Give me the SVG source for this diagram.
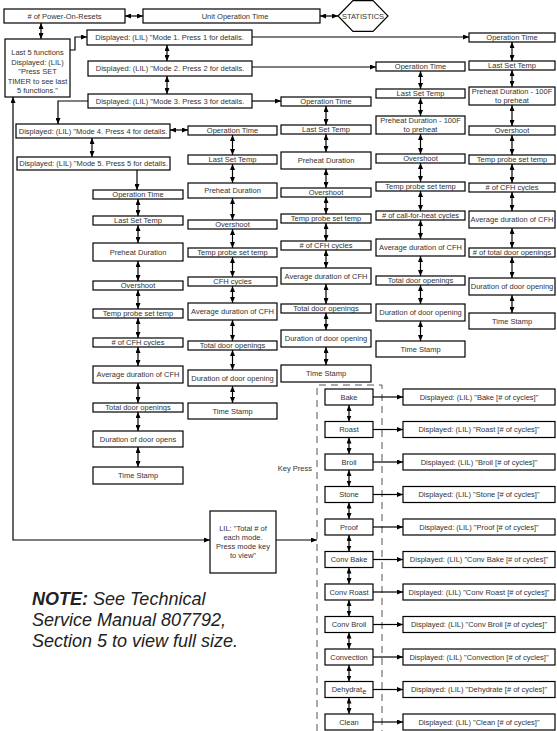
<svg xmlns="http://www.w3.org/2000/svg" width="557" height="731" viewBox="0 0 557 731">
<style>
rect{fill:#fff;stroke:#000;stroke-width:1.2}
polygon{fill:#fff;stroke:#000;stroke-width:1.2}
text{font-family:"Liberation Sans",Arial,sans-serif;font-size:7.5px;fill:#333;text-anchor:middle}
.c line,.c polyline{stroke:#000;stroke-width:1.2;fill:none}
.d{marker-start:url(#ah);marker-end:url(#ah)}
.e{marker-end:url(#ah)}
.dash{stroke:#555;stroke-width:1;stroke-dasharray:7 5;fill:none}
.note{font-size:18px;font-style:italic;text-anchor:start;fill:#222}
</style>
<defs>
<marker id="ah" viewBox="0 0 6 5" refX="6" refY="2.5" markerWidth="6" markerHeight="5" markerUnits="userSpaceOnUse" orient="auto-start-reverse"><path d="M0,0 L6,2.5 L0,5 z" fill="#000"/></marker>
</defs>
<rect x="0" y="0" width="557" height="731" style="fill:#fff;stroke:none"/>

<g id="top">
<g id="power"><rect x="4" y="9" width="121" height="14"/><text x="64.5" y="18.7"># of Power-On-Resets</text></g>
<g id="unitop"><rect x="143" y="9" width="177" height="14"/><text x="235" y="18.7">Unit Operation Time</text></g>
<g id="stats"><polygon points="338,16 353,0.6 373,0.6 388,16 373,31.4 353,31.4"/><text x="363" y="18.7">STATISTICS</text></g>
<g id="last5"><rect x="5" y="39" width="65" height="58"/>
<text x="37.5" y="55">Last 5 functions</text><text x="37.5" y="64.5">Displayed: (LIL)</text><text x="37.5" y="74">"Press SET</text><text x="37.5" y="83.5">TIMER to see last</text><text x="37.5" y="93">5 functions."</text></g>
<g id="mode1"><rect x="87" y="30" width="165" height="15"/><text x="169.5" y="40.2">Displayed: (LIL) "Mode 1. Press 1 for details.</text></g>
<g id="mode2"><rect x="88" y="61" width="164" height="15"/><text x="170" y="71.2">Displayed: (LIL) "Mode 2. Press 2 for details.</text></g>
<g id="mode3"><rect x="88" y="94" width="164" height="14"/><text x="170" y="103.7">Displayed: (LIL) "Mode 3. Press 3 for details.</text></g>
<g id="mode4"><rect x="16" y="124" width="154" height="14"/><text x="93" y="133.7">Displayed: (LIL) "Mode 4. Press 4 for details.</text></g>
<g id="mode5"><rect x="17" y="157" width="153" height="13"/><text x="93.5" y="166.2">Displayed: (LIL) "Mode 5. Press 5 for details.</text></g>
</g>

<g id="colA">
<g id="a1"><rect x="93" y="190" width="90" height="9"/><text x="138" y="196.8">Operation Time</text></g>
<g id="a2"><rect x="93" y="216" width="90" height="9"/><text x="138" y="222.8">Last Set Temp</text></g>
<g id="a3"><rect x="93" y="243" width="90" height="18"/><text x="138" y="254.7">Preheat Duration</text></g>
<g id="a4"><rect x="93" y="281" width="90" height="9"/><text x="138" y="287.8">Overshoot</text></g>
<g id="a5"><rect x="93" y="309" width="90" height="9"/><text x="138" y="315.8">Temp probe set temp</text></g>
<g id="a6"><rect x="93" y="338" width="90" height="9"/><text x="138" y="344.8"># of CFH cycles</text></g>
<g id="a7"><rect x="93" y="366" width="90" height="17"/><text x="138" y="377.2">Average duration of CFH</text></g>
<g id="a8"><rect x="93" y="403" width="90" height="9"/><text x="138" y="409.8">Total door openings</text></g>
<g id="a9"><rect x="93" y="431" width="90" height="16"/><text x="138" y="441.7">Duration of door opens</text></g>
<g id="a10"><rect x="93" y="467" width="90" height="17"/><text x="138" y="478.2">Time Stamp</text></g>
</g>

<g id="colB">
<g id="b1"><rect x="188" y="126" width="89" height="9"/><text x="232.5" y="132.8">Operation Time</text></g>
<g id="b2"><rect x="188" y="155" width="89" height="9"/><text x="232.5" y="161.8">Last Set Temp</text></g>
<g id="b3"><rect x="188" y="183" width="89" height="15"/><text x="232.5" y="193.2">Preheat Duration</text></g>
<g id="b4"><rect x="188" y="220" width="89" height="9"/><text x="232.5" y="226.8">Overshoot</text></g>
<g id="b5"><rect x="188" y="248" width="89" height="9"/><text x="232.5" y="254.8">Temp probe set temp</text></g>
<g id="b6"><rect x="188" y="277" width="89" height="9"/><text x="232.5" y="283.8">CFH cycles</text></g>
<g id="b7"><rect x="188" y="303" width="89" height="17"/><text x="232.5" y="314.2">Average duration of CFH</text></g>
<g id="b8"><rect x="188" y="341" width="89" height="9"/><text x="232.5" y="347.8">Total door openings</text></g>
<g id="b9"><rect x="188" y="370" width="89" height="16"/><text x="232.5" y="380.7">Duration of door opening</text></g>
<g id="b10"><rect x="188" y="403" width="89" height="16"/><text x="232.5" y="413.7">Time Stamp</text></g>
</g>

<g id="colC">
<g id="c1"><rect x="281" y="97" width="90" height="9"/><text x="326" y="103.8">Operation Time</text></g>
<g id="c2"><rect x="281" y="125" width="90" height="9"/><text x="326" y="131.8">Last Set Temp</text></g>
<g id="c3"><rect x="281" y="152" width="90" height="17"/><text x="326" y="163.2">Preheat Duration</text></g>
<g id="c4"><rect x="281" y="188" width="90" height="9"/><text x="326" y="194.8">Overshoot</text></g>
<g id="c5"><rect x="281" y="214" width="90" height="9"/><text x="326" y="220.8">Temp probe set temp</text></g>
<g id="c6"><rect x="281" y="241" width="90" height="9"/><text x="326" y="247.8"># of CFH cycles</text></g>
<g id="c7"><rect x="281" y="268" width="90" height="16"/><text x="326" y="278.7">Average duration of CFH</text></g>
<g id="c8"><rect x="281" y="304" width="90" height="9"/><text x="326" y="310.8">Total door openings</text></g>
<g id="c9"><rect x="281" y="330" width="90" height="17"/><text x="326" y="341.2">Duration of door opening</text></g>
<g id="c10"><rect x="281" y="365" width="90" height="17"/><text x="326" y="376.2">Time Stamp</text></g>
</g>

<g id="colD">
<g id="d1"><rect x="376" y="62" width="89" height="9"/><text x="420.5" y="68.8">Operation Time</text></g>
<g id="d2"><rect x="376" y="89" width="89" height="9"/><text x="420.5" y="95.8">Last Set Temp</text></g>
<g id="d3"><rect x="376" y="116" width="89" height="18"/><text x="420.5" y="123.3">Preheat Duration - 100F</text><text x="420.5" y="131.5">to preheat</text></g>
<g id="d4"><rect x="376" y="154" width="89" height="9"/><text x="420.5" y="160.8">Overshoot</text></g>
<g id="d5"><rect x="376" y="182" width="89" height="9"/><text x="420.5" y="188.8">Temp probe set temp</text></g>
<g id="d6"><rect x="376" y="211" width="89" height="9"/><text x="420.5" y="217.8"># of call-for-heat cycles</text></g>
<g id="d7"><rect x="376" y="239" width="89" height="17"/><text x="420.5" y="250.2">Average duration of CFH</text></g>
<g id="d8"><rect x="376" y="276" width="89" height="9"/><text x="420.5" y="282.8">Total door openings</text></g>
<g id="d9"><rect x="376" y="304" width="89" height="17"/><text x="420.5" y="315.2">Duration of door opening</text></g>
<g id="d10"><rect x="376" y="341" width="89" height="16"/><text x="420.5" y="351.7">Time Stamp</text></g>
</g>

<g id="colE">
<g id="e1"><rect x="469" y="33" width="86" height="9"/><text x="512" y="39.8">Operation Time</text></g>
<g id="e2"><rect x="469" y="61" width="86" height="9"/><text x="512" y="67.8">Last Set Temp</text></g>
<g id="e3"><rect x="469" y="87" width="86" height="18"/><text x="512" y="94.3">Preheat Duration - 100F</text><text x="512" y="102.5">to preheat</text></g>
<g id="e4"><rect x="469" y="126" width="86" height="9"/><text x="512" y="132.8">Overshoot</text></g>
<g id="e5"><rect x="469" y="155" width="86" height="9"/><text x="512" y="161.8">Temp probe set temp</text></g>
<g id="e6"><rect x="469" y="183" width="86" height="9"/><text x="512" y="189.8"># of CFH cycles</text></g>
<g id="e7"><rect x="469" y="211" width="86" height="17"/><text x="512" y="222.2">Average duration of CFH</text></g>
<g id="e8"><rect x="469" y="248" width="86" height="9"/><text x="512" y="254.8"># of total door openings</text></g>
<g id="e9"><rect x="469" y="278" width="86" height="17"/><text x="512" y="289.2">Duration of door opening</text></g>
<g id="e10"><rect x="469" y="313" width="86" height="16"/><text x="512" y="323.7">Time Stamp</text></g>
</g>

<g id="modes">
<g id="m-bake"><rect x="325" y="389" width="48" height="16"/><text x="349" y="399.7">Bake</text></g>
<g id="m-roast"><rect x="325" y="421.5" width="48" height="16"/><text x="349" y="432.2">Roast</text></g>
<g id="m-broil"><rect x="325" y="454" width="48" height="16"/><text x="349" y="464.7">Broil</text></g>
<g id="m-stone"><rect x="325" y="486.5" width="48" height="16"/><text x="349" y="497.2">Stone</text></g>
<g id="m-proof"><rect x="325" y="519" width="48" height="16"/><text x="349" y="529.7">Proof</text></g>
<g id="m-convbake"><rect x="325" y="551.5" width="48" height="16"/><text x="349" y="562.2">Conv Bake</text></g>
<g id="m-convroast"><rect x="325" y="584" width="48" height="16"/><text x="349" y="594.7">Conv Roast</text></g>
<g id="m-convbroil"><rect x="325" y="616.5" width="48" height="16"/><text x="349" y="627.2">Conv Broil</text></g>
<g id="m-convection"><rect x="325" y="649" width="48" height="16"/><text x="349" y="659.7">Convection</text></g>
<g id="m-dehydrate"><rect x="325" y="681.5" width="48" height="16"/><text x="349" y="692.2">Dehydrat<tspan dy="1.5">e</tspan></text></g>
<g id="m-clean"><rect x="325" y="714" width="48" height="16"/><text x="349" y="724.7">Clean</text></g>
</g>

<g id="displays">
<g id="v-bake"><rect x="403" y="389" width="152" height="16"/><text x="479" y="399.7">Displayed: (LIL) "Bake [# of cycles]"</text></g>
<g id="v-roast"><rect x="403" y="421.5" width="152" height="16"/><text x="479" y="432.2">Displayed: (LIL) "Roast [# of cycles]"</text></g>
<g id="v-broil"><rect x="403" y="454" width="152" height="16"/><text x="479" y="464.7">Displayed: (LIL) "Broil [# of cycles]"</text></g>
<g id="v-stone"><rect x="403" y="486.5" width="152" height="16"/><text x="479" y="497.2">Displayed: (LIL) "Stone [# of cycles]"</text></g>
<g id="v-proof"><rect x="403" y="519" width="152" height="16"/><text x="479" y="529.7">Displayed: (LIL) "Proof [# of cycles]"</text></g>
<g id="v-convbake"><rect x="403" y="551.5" width="152" height="16"/><text x="479" y="562.2">Displayed: (LIL) "Conv Bake [# of cycles]"</text></g>
<g id="v-convroast"><rect x="403" y="584" width="152" height="16"/><text x="479" y="594.7">Displayed: (LIL) "Conv Roast [# of cycles]"</text></g>
<g id="v-convbroil"><rect x="403" y="616.5" width="152" height="16"/><text x="479" y="627.2">Displayed: (LIL) "Conv Broil [# of cycles]"</text></g>
<g id="v-convection"><rect x="403" y="649" width="152" height="16"/><text x="479" y="659.7">Displayed: (LIL) "Convection [# of cycles]"</text></g>
<g id="v-dehydrate"><rect x="403" y="681.5" width="152" height="16"/><text x="479" y="692.2">Displayed: (LIL) "Dehydrate [# of cycles]"</text></g>
<g id="v-clean"><rect x="403" y="714" width="152" height="16"/><text x="479" y="724.7">Displayed: (LIL) "Clean [# of cycles]"</text></g>
</g>

<g id="lil"><rect x="210" y="511" width="66" height="62"/>
<text x="243" y="530.5">LIL: "Total # of</text><text x="243" y="539.5">each mode.</text><text x="243" y="548.5">Press mode key</text><text x="243" y="557.5">to view"</text></g>

<g id="keypress"><text x="312" y="471" style="text-anchor:end">Key Press</text>
<path class="dash" d="M317,731 V385 H382 V731"/></g>

<g id="note"><text class="note" x="32" y="605"><tspan font-weight="bold">NOTE:</tspan> See Technical</text>
<text class="note" x="32" y="626">Service Manual 807792,</text>
<text class="note" x="32" y="647">Section 5 to view full size.</text></g>

<g id="connectors" class="c">
<line class="d" x1="125" y1="16" x2="143" y2="16"/>
<line class="d" x1="320" y1="16" x2="338" y2="16"/>
<line class="d" x1="41" y1="23" x2="41" y2="39"/>
<polyline class="e" points="70,50 75,50 75,37 87,37"/>
<line class="e" x1="252" y1="37" x2="469" y2="37"/>
<line class="d" x1="167" y1="45" x2="167" y2="61"/>
<line class="e" x1="252" y1="67" x2="376" y2="67"/>
<line class="d" x1="167" y1="76" x2="167" y2="94"/>
<line class="e" x1="252" y1="101" x2="281" y2="101"/>
<polyline class="e" points="88,101 58,101 58,124"/>
<line class="d" x1="170" y1="130" x2="188" y2="130"/>
<line class="d" x1="92" y1="138" x2="92" y2="157"/>
<line class="e" x1="137" y1="170" x2="137" y2="190"/>
<polyline class="d" points="13,97 13,540 210,540"/>
<line class="e" x1="276" y1="540" x2="317" y2="540"/>
<!-- column A -->
<line class="d" x1="138" y1="199" x2="138" y2="216"/>
<line class="d" x1="138" y1="225" x2="138" y2="243"/>
<line class="d" x1="138" y1="261" x2="138" y2="281"/>
<line class="d" x1="138" y1="290" x2="138" y2="309"/>
<line class="d" x1="138" y1="318" x2="138" y2="338"/>
<line class="d" x1="138" y1="347" x2="138" y2="366"/>
<line class="d" x1="138" y1="383" x2="138" y2="403"/>
<line class="d" x1="138" y1="412" x2="138" y2="431"/>
<line class="d" x1="138" y1="447" x2="138" y2="467"/>
<!-- column B -->
<line class="d" x1="232.5" y1="135" x2="232.5" y2="155"/>
<line class="d" x1="232.5" y1="164" x2="232.5" y2="183"/>
<line class="d" x1="232.5" y1="198" x2="232.5" y2="220"/>
<line class="d" x1="232.5" y1="229" x2="232.5" y2="248"/>
<line class="d" x1="232.5" y1="257" x2="232.5" y2="277"/>
<line class="d" x1="232.5" y1="286" x2="232.5" y2="303"/>
<line class="d" x1="232.5" y1="320" x2="232.5" y2="341"/>
<line class="d" x1="232.5" y1="350" x2="232.5" y2="370"/>
<line class="d" x1="232.5" y1="386" x2="232.5" y2="403"/>
<!-- column C -->
<line class="d" x1="326" y1="106" x2="326" y2="125"/>
<line class="d" x1="326" y1="134" x2="326" y2="152"/>
<line class="d" x1="326" y1="169" x2="326" y2="188"/>
<line class="d" x1="326" y1="197" x2="326" y2="214"/>
<line class="d" x1="326" y1="223" x2="326" y2="241"/>
<line class="d" x1="326" y1="250" x2="326" y2="268"/>
<line class="d" x1="326" y1="284" x2="326" y2="304"/>
<line class="d" x1="326" y1="313" x2="326" y2="330"/>
<line class="d" x1="326" y1="347" x2="326" y2="365"/>
<!-- column D -->
<line class="d" x1="420.5" y1="71" x2="420.5" y2="89"/>
<line class="d" x1="420.5" y1="98" x2="420.5" y2="116"/>
<line class="d" x1="420.5" y1="134" x2="420.5" y2="154"/>
<line class="d" x1="420.5" y1="163" x2="420.5" y2="182"/>
<line class="d" x1="420.5" y1="191" x2="420.5" y2="211"/>
<line class="d" x1="420.5" y1="220" x2="420.5" y2="239"/>
<line class="d" x1="420.5" y1="256" x2="420.5" y2="276"/>
<line class="d" x1="420.5" y1="285" x2="420.5" y2="304"/>
<line class="d" x1="420.5" y1="321" x2="420.5" y2="341"/>
<!-- column E -->
<line class="d" x1="512" y1="42" x2="512" y2="61"/>
<line class="d" x1="512" y1="70" x2="512" y2="87"/>
<line class="d" x1="512" y1="105" x2="512" y2="126"/>
<line class="d" x1="512" y1="135" x2="512" y2="155"/>
<line class="d" x1="512" y1="164" x2="512" y2="183"/>
<line class="d" x1="512" y1="192" x2="512" y2="211"/>
<line class="d" x1="512" y1="228" x2="512" y2="248"/>
<line class="d" x1="512" y1="257" x2="512" y2="278"/>
<line class="d" x1="512" y1="295" x2="512" y2="313"/>
<!-- mode column -->
<line class="d" x1="349" y1="405" x2="349" y2="421.5"/>
<line class="d" x1="349" y1="437.5" x2="349" y2="454"/>
<line class="d" x1="349" y1="470" x2="349" y2="486.5"/>
<line class="d" x1="349" y1="502.5" x2="349" y2="519"/>
<line class="d" x1="349" y1="535" x2="349" y2="551.5"/>
<line class="d" x1="349" y1="567.5" x2="349" y2="584"/>
<line class="d" x1="349" y1="600" x2="349" y2="616.5"/>
<line class="d" x1="349" y1="632.5" x2="349" y2="649"/>
<line class="d" x1="349" y1="665" x2="349" y2="681.5"/>
<line class="d" x1="349" y1="697.5" x2="349" y2="714"/>
<!-- mode to display -->
<line class="e" x1="373" y1="397" x2="403" y2="397"/>
<line class="e" x1="373" y1="429.5" x2="403" y2="429.5"/>
<line class="e" x1="373" y1="462" x2="403" y2="462"/>
<line class="e" x1="373" y1="494.5" x2="403" y2="494.5"/>
<line class="e" x1="373" y1="527" x2="403" y2="527"/>
<line class="e" x1="373" y1="559.5" x2="403" y2="559.5"/>
<line class="e" x1="373" y1="592" x2="403" y2="592"/>
<line class="e" x1="373" y1="624.5" x2="403" y2="624.5"/>
<line class="e" x1="373" y1="657" x2="403" y2="657"/>
<line class="e" x1="373" y1="689.5" x2="403" y2="689.5"/>
<line class="e" x1="373" y1="722" x2="403" y2="722"/>
</g>
</svg>
